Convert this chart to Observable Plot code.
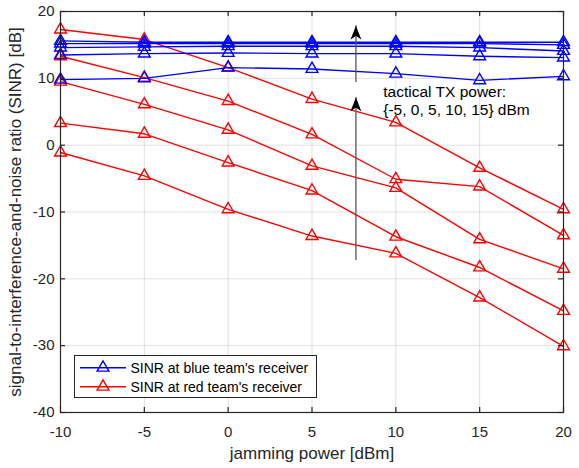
<!DOCTYPE html>
<html>
<head>
<meta charset="utf-8">
<script src="https://cdn.jsdelivr.net/npm/d3@7"></script>
<script src="https://cdn.jsdelivr.net/npm/@observablehq/plot@0.6"></script>
<style>
  html, body { margin: 0; padding: 0; background: #fff; }
  #wrap { position: relative; width: 579px; height: 468px; font-family: "Liberation Sans", Arial, sans-serif; }
  #wrap > svg.chart { position: absolute; left: 0; top: 0; }
</style>
</head>
<body>
<div id="wrap"></div>
<script>
// ---- data ----
const jamming = [-10, -5, 0, 5, 10, 15, 20];            // jamming power [dBm]
const txPower = [-5, 0, 5, 10, 15];                     // tactical TX power [dBm]
const blueSINR_m5 = [9.8, 10.0, 11.6, 11.4, 10.7, 9.7, 10.3];
const blueSINR_0  = [13.5, 13.7, 13.8, 13.7, 13.7, 13.3, 13.1];
const blueSINR_5  = [14.6, 14.7, 14.8, 14.8, 14.8, 14.6, 14.1];
const blueSINR_10 = [15.2, 15.2, 15.2, 15.2, 15.2, 15.2, 15.0];
const blueSINR_15 = [15.6, 15.4, 15.4, 15.4, 15.4, 15.4, 15.4];
const redSINR_m5  = [-1.1, -4.6, -9.6, -13.6, -16.2, -22.8, -30.1];
const redSINR_0   = [3.3, 1.7, -2.6, -6.8, -13.7, -18.3, -24.8];
const redSINR_5   = [9.5, 6.1, 2.3, -3.1, -6.4, -14.1, -18.5];
const redSINR_10  = [13.3, 10.1, 6.6, 1.6, -5.1, -6.2, -13.5];
const redSINR_15  = [17.3, 15.8, 11.6, 6.9, 3.4, -3.4, -9.6];
const blueSeries = [blueSINR_m5, blueSINR_0, blueSINR_5, blueSINR_10, blueSINR_15];
const redSeries  = [redSINR_m5, redSINR_0, redSINR_5, redSINR_10, redSINR_15];
const xTicks = [-10, -5, 0, 5, 10, 15, 20];
const yTicks = [-40, -30, -20, -10, 0, 10, 20];
const legendLabels = ["SINR at blue team's receiver", "SINR at red team's receiver"];
const xLabel = "jamming power [dBm]";
const yLabel = "signal-to-interference-and-noise ratio (SINR) [dB]";
const annotationLines = ["tactical TX power:", "{-5, 0, 5, 10, 15} dBm"];
const annotationX = 9.25;
const annotationY = 6.7;
const arrowX    = [7.62, 7.62];
const arrowFrom = [9.39, -17.25];
const arrowTo   = [17.86, 7.15];

// ---- derived tables ----
function rows(series) {
  const out = [];
  series.forEach((vals, i) => vals.forEach((v, j) => out.push({tx: txPower[i], x: jamming[j], y: v})));
  return out;
}
const blueRows = rows(blueSeries);
const redRows = rows(redSeries);
const arrows = arrowX.map((x, i) => ({x, from: arrowFrom[i], to: arrowTo[i]}));

const W = 579, H = 468;
const mL = 60, mR = 16, mT = 11, mB = 56;
const plotW = W - mL - mR, plotH = H - mT - mB;
const tick = 5;
const BLUE = "#0000ff", RED = "#ff0000", AX = "#262626";

const arrowHead = {
  draw(context) {
    context.moveTo(0, 0);
    context.lineTo(-5.5, 14);
    context.lineTo(0, 10);
    context.lineTo(5.5, 14);
    context.closePath();
  }
};

const chart = Plot.plot({
  width: W, height: H,
  marginLeft: mL, marginRight: mR, marginTop: mT, marginBottom: mB,
  style: {fontFamily: '"Liberation Sans", Arial, sans-serif', fontSize: "15px", color: AX, background: "transparent"},
  x: {domain: [-10, 20]},
  y: {domain: [-40, 20]},
  marks: [
    Plot.gridX(xTicks, {stroke: "#000", strokeOpacity: 0.12, strokeWidth: 1}),
    Plot.gridY(yTicks, {stroke: "#000", strokeOpacity: 0.12, strokeWidth: 1}),
    Plot.line(redRows, {x: "x", y: "y", z: "tx", stroke: RED, strokeWidth: 1.4}),
    Plot.dot(redRows, {x: "x", y: "y", symbol: "triangle", r: 4.4, stroke: RED, fill: "none", strokeWidth: 1.4}),
    Plot.line(blueRows, {x: "x", y: "y", z: "tx", stroke: BLUE, strokeWidth: 1.4}),
    Plot.dot(blueRows, {x: "x", y: "y", symbol: "triangle", r: 4.4, stroke: BLUE, fill: "none", strokeWidth: 1.4}),
    Plot.frame({stroke: AX, strokeWidth: 1.2}),
    Plot.tickX(xTicks, {x: d => d, insetBottom: plotH - tick, stroke: AX, strokeWidth: 1.2}),
    Plot.tickX(xTicks, {x: d => d, insetTop: plotH - tick, stroke: AX, strokeWidth: 1.2}),
    Plot.tickY(yTicks, {y: d => d, insetRight: plotW - tick, stroke: AX, strokeWidth: 1.2}),
    Plot.tickY(yTicks, {y: d => d, insetLeft: plotW - tick, stroke: AX, strokeWidth: 1.2}),
    Plot.axisX({ticks: xTicks, tickSize: 0, tickPadding: 14, tickFormat: d => `${d}`, label: null, fontSize: 15, fill: AX}),
    Plot.axisY({ticks: yTicks, tickSize: 0, tickPadding: 6, tickFormat: d => `${d}`, label: null, fontSize: 15, fill: AX}),
    Plot.text([xLabel], {text: d => d, frameAnchor: "bottom", textAnchor: "middle", dy: 41, lineAnchor: "middle", fontSize: 17, fill: AX}),
    Plot.text([yLabel], {text: d => d, frameAnchor: "left", textAnchor: "middle", rotate: -90, dx: -45, lineAnchor: "middle", fontSize: 17, fill: AX}),
    Plot.ruleX(arrows, {x: "x", y1: "from", y2: "to", stroke: "#555", strokeWidth: 1.3}),
    Plot.dot(arrows, {x: "x", y: "to", symbol: arrowHead, r: 5, fill: "#000", stroke: "none"}),
    Plot.text([annotationLines.join("\n")], {x: () => annotationX, y: () => annotationY, text: d => d, textAnchor: "start", lineAnchor: "middle", lineHeight: 1.12, fontSize: 15.5, fill: "#000"})
  ]
});
chart.classList.add("chart");

const wrap = document.getElementById("wrap");
wrap.appendChild(chart);

// ---- legend (inside plot area, MATLAB style) ----
const lg = d3.create("svg").attr("id", "legend").attr("width", 243).attr("height", 43)
  .style("position", "absolute").style("left", "74px").style("top", "355px");
lg.append("rect").attr("x", 0.5).attr("y", 0.5).attr("width", 242).attr("height", 42)
  .attr("fill", "#fff").attr("stroke", AX).attr("stroke-width", 1);
const tri = d3.symbol(d3.symbolTriangle, Math.PI * 4.4 * 4.4)();
[BLUE, RED].forEach((c, i) => {
  const cy = 12.7 + i * 19;
  lg.append("line").attr("x1", 6).attr("x2", 52).attr("y1", cy).attr("y2", cy)
    .attr("stroke", c).attr("stroke-width", 1.4);
  lg.append("path").attr("d", tri).attr("transform", `translate(29,${cy})`)
    .attr("fill", "none").attr("stroke", c).attr("stroke-width", 1.4);
  lg.append("text").attr("x", 56.5).attr("y", cy).attr("dy", "0.35em")
    .attr("font-family", '"Liberation Sans", Arial, sans-serif').attr("font-size", 14)
    .attr("fill", "#000").text(legendLabels[i]);
});
wrap.appendChild(lg.node());
</script>
</body>
</html>
